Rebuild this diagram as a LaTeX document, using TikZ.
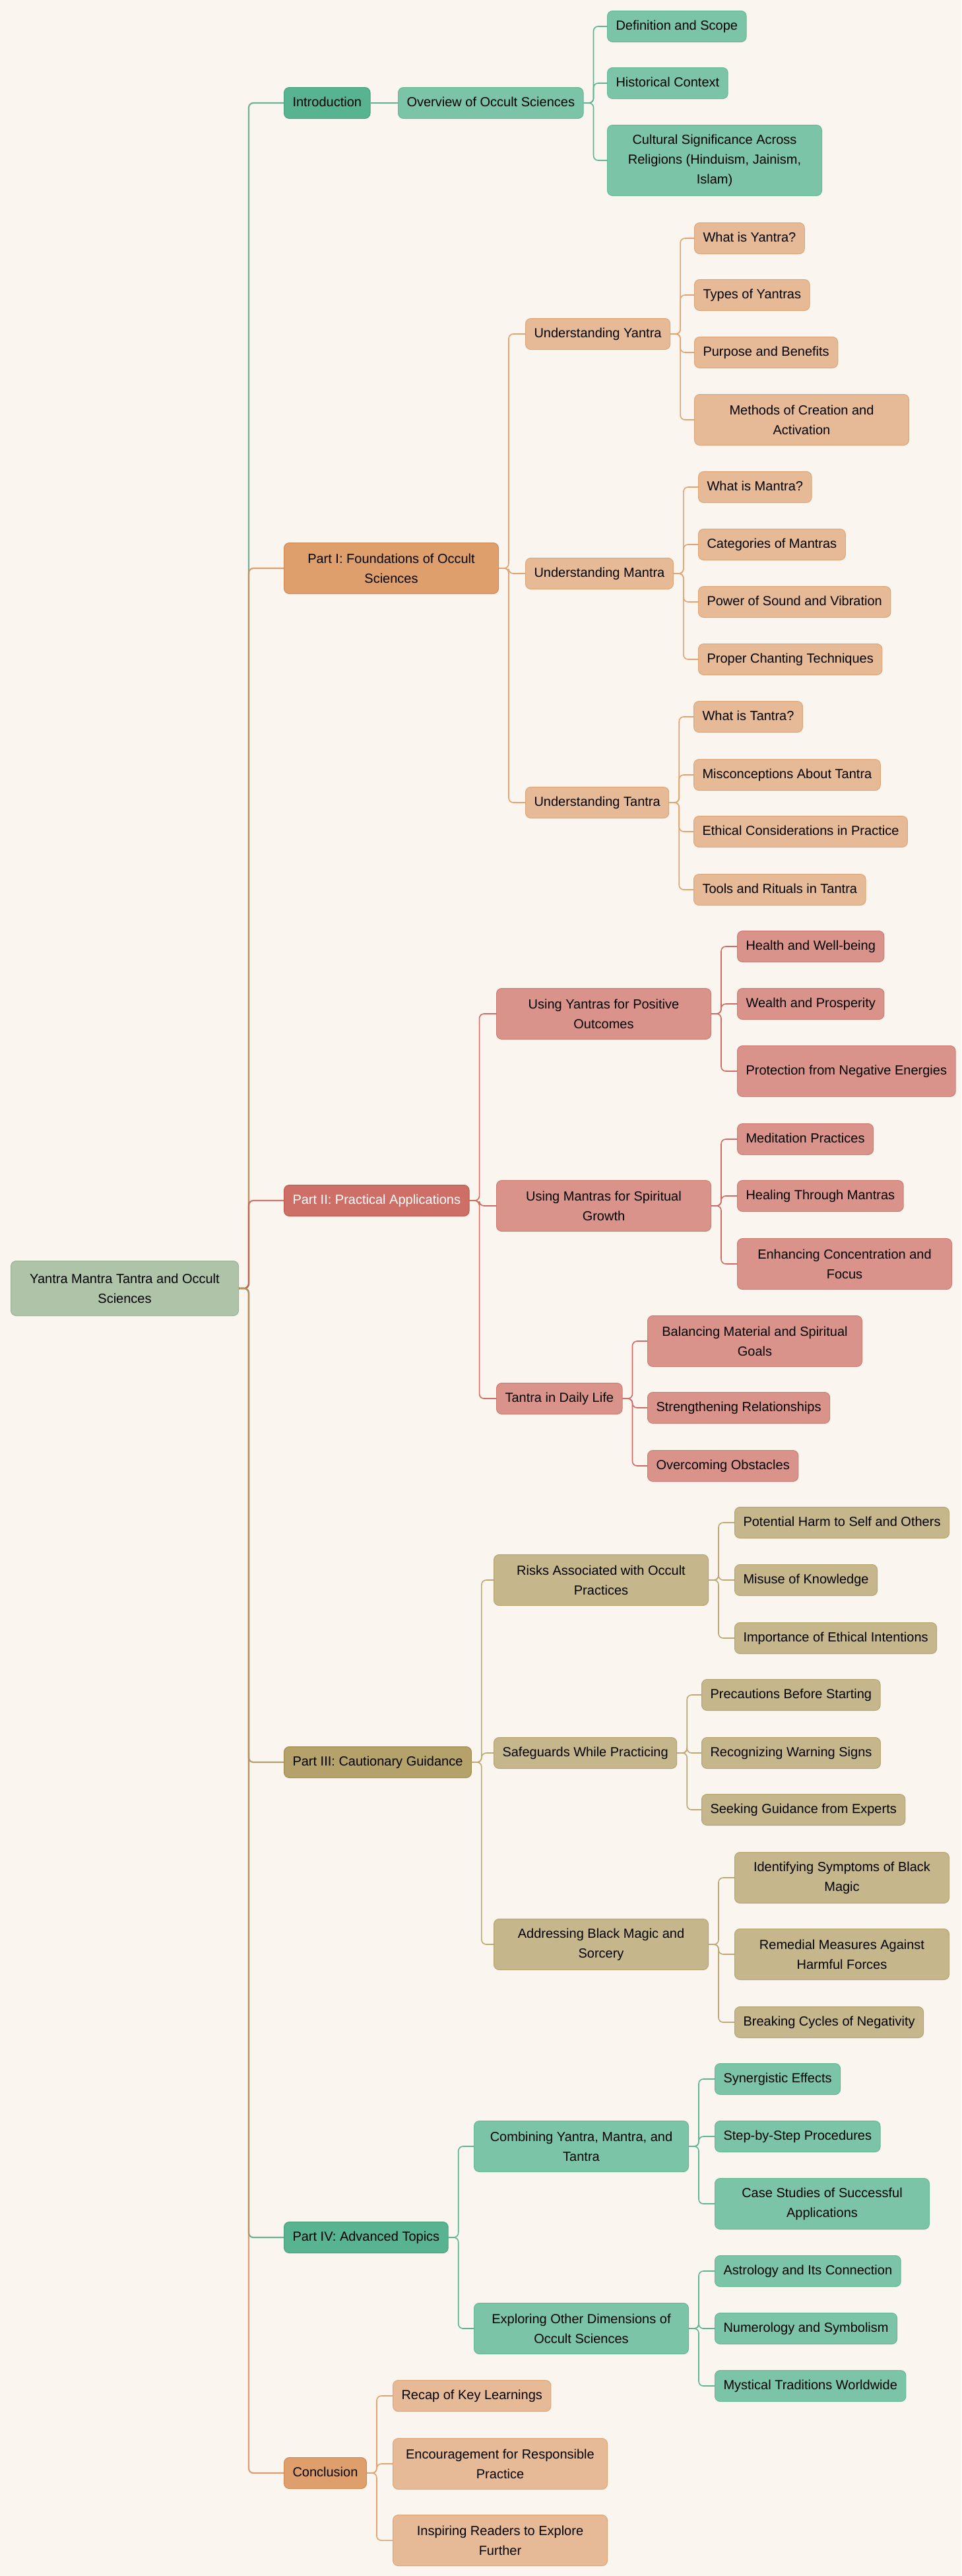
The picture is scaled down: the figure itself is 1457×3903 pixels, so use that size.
\documentclass[tikz,border=0pt]{standalone}
\usepackage{fontspec}
\setmainfont{Liberation Sans}

\definecolor{bgc}{HTML}{FAF6EF}
\definecolor{sageF}{HTML}{AEC3A8}
\definecolor{sageD}{HTML}{9AB394}
\definecolor{grA}{HTML}{58B391}
\definecolor{grAd}{HTML}{4A9F7F}
\definecolor{grB}{HTML}{7BC4A8}
\definecolor{grBd}{HTML}{66B796}
\definecolor{grL}{HTML}{5DB594}
\definecolor{orA}{HTML}{DF9F6D}
\definecolor{orAd}{HTML}{D2894F}
\definecolor{orB}{HTML}{E6BA96}
\definecolor{orBd}{HTML}{DFA576}
\definecolor{orL}{HTML}{E3A26F}
\definecolor{rdA}{HTML}{CD6F67}
\definecolor{rdAd}{HTML}{C0584F}
\definecolor{rdB}{HTML}{DA938A}
\definecolor{rdBd}{HTML}{CF7A71}
\definecolor{rdL}{HTML}{CF6B63}
\definecolor{olA}{HTML}{B4A26A}
\definecolor{olAd}{HTML}{9E8A4F}
\definecolor{olB}{HTML}{C5B78B}
\definecolor{olBd}{HTML}{B5A470}
\definecolor{olL}{HTML}{BCA871}

\begin{document}
\begin{tikzpicture}[
x = 1pt, y = -1pt,
    mm/.style = {rectangle, rounded corners=8pt, draw, line width=1pt,
                 anchor=north west, inner xsep=13pt, inner ysep=0pt,
                 align=center, font=\fontsize{20}{30}\selectfont},
   box/.style = {mm, minimum height=47pt, text height=15pt, text depth=4.5pt},
 boxii/.style = {mm, minimum width=325pt, minimum height=77pt},
boxiii/.style = {mm, minimum width=325pt, minimum height=107pt},
  sage/.style = {fill=sageF, draw=sageD},
green1/.style = {fill=grA, draw=grAd},
green2/.style = {fill=grB, draw=grBd},
orange1/.style = {fill=orA, draw=orAd},
orange2/.style = {fill=orB, draw=orBd},
  red1/.style = {fill=rdA, draw=rdAd, text=white},
  red2/.style = {fill=rdB, draw=rdBd},
olive1/.style = {fill=olA, draw=olAd},
olive2/.style = {fill=olB, draw=olBd},
 trunk/.style = {line width=2.2pt, rounded corners=7pt, draw opacity=.8},
  link/.style = {line width=1.6pt, rounded corners=7pt},
                        ]
\fill[bgc] (0,0) rectangle (1457,3903);

% root and parts
\node[boxii, sage, minimum width=345pt, minimum height=83pt] (root) at (16,1910)
     {Yantra Mantra Tantra and Occult\\Sciences};
\node[box, green1]   (intro) at (430,132)  {Introduction};
\node[boxii, orange1] (found) at (430,822) {Part I: Foundations of Occult\\Sciences};
\node[box, red1]     (pract) at (430,1795) {Part II: Practical Applications};
\node[box, olive1]   (caut)  at (430,2646) {Part III: Cautionary Guidance};
\node[box, green1]   (adv)   at (430,3366) {Part IV: Advanced Topics};
\node[box, orange1]  (concl) at (430,3723) {Conclusion};

% Introduction
\node[box, green2]    (ovw)   at (603,132) {Overview of Occult Sciences};
\node[box, green2]    (defin) at (920,16)  {Definition and Scope};
\node[box, green2]    (hist)  at (920,102) {Historical Context};
\node[boxiii, green2] (cult)  at (920,189)
     {Cultural Significance Across\\Religions (Hinduism, Jainism,\\Islam)};

% Part I
\node[box, orange2]   (uyan)   at (796,482)  {Understanding Yantra};
\node[box, orange2]   (ywhat)  at (1052,337) {What is Yantra?};
\node[box, orange2]   (ytypes) at (1052,423) {Types of Yantras};
\node[box, orange2]   (ypurp)  at (1052,510) {Purpose and Benefits};
\node[boxii, orange2] (ymeth)  at (1052,597) {Methods of Creation and\\Activation};
\node[box, orange2]   (uman)   at (796,845)  {Understanding Mantra};
\node[box, orange2]   (mwhat)  at (1058,714) {What is Mantra?};
\node[box, orange2]   (mcat)   at (1058,801) {Categories of Mantras};
\node[box, orange2]   (mpow)   at (1058,888) {Power of Sound and Vibration};
\node[box, orange2]   (mchant) at (1058,975) {Proper Chanting Techniques};
\node[box, orange2]   (utan)   at (796,1192)  {Understanding Tantra};
\node[box, orange2]   (twhat)  at (1051,1062) {What is Tantra?};
\node[box, orange2]   (tmisc)  at (1051,1150) {Misconceptions About Tantra};
\node[box, orange2]   (teth)   at (1051,1236) {Ethical Considerations in Practice};
\node[box, orange2]   (ttools) at (1051,1324) {Tools and Rituals in Tantra};

% Part II
\node[boxii, red2] (puy)      at (752,1497)  {Using Yantras for Positive\\Outcomes};
\node[box, red2]   (health)   at (1117,1410) {Health and Well-being};
\node[box, red2]   (wealth)   at (1117,1497) {Wealth and Prosperity};
\node[boxii, red2] (protect)  at (1117,1584) {Protection from Negative Energies};
\node[boxii, red2] (pum)      at (752,1788)  {Using Mantras for Spiritual\\Growth};
\node[box, red2]   (medit)    at (1117,1702) {Meditation Practices};
\node[box, red2]   (heal)     at (1117,1788) {Healing Through Mantras};
\node[boxii, red2] (enhance)  at (1117,1876) {Enhancing Concentration and\\Focus};
\node[box, red2]   (ptd)      at (752,2095)  {Tantra in Daily Life};
\node[boxii, red2] (balance)  at (981,1993)  {Balancing Material and Spiritual\\Goals};
\node[box, red2]   (strength) at (981,2109)  {Strengthening Relationships};
\node[box, red2]   (overcome) at (981,2197)  {Overcoming Obstacles};

% Part III
\node[boxii, olive2] (risk)   at (748,2355)  {Risks Associated with Occult\\Practices};
\node[box, olive2]   (harm)   at (1113,2283) {Potential Harm to Self and Others};
\node[box, olive2]   (misuse) at (1113,2370) {Misuse of Knowledge};
\node[box, olive2]   (ethic)  at (1113,2458) {Importance of Ethical Intentions};
\node[box, olive2]   (safe)   at (748,2632)  {Safeguards While Practicing};
\node[box, olive2]   (precau) at (1063,2544) {Precautions Before Starting};
\node[box, olive2]   (warn)   at (1063,2632) {Recognizing Warning Signs};
\node[box, olive2]   (seek)   at (1063,2718) {Seeking Guidance from Experts};
\node[boxii, olive2] (black)  at (748,2907)  {Addressing Black Magic and\\Sorcery};
\node[boxii, olive2] (symp)   at (1113,2806) {Identifying Symptoms of Black\\Magic};
\node[boxii, olive2] (remed)  at (1113,2922) {Remedial Measures Against\\Harmful Forces};
\node[box, olive2]   (cycles) at (1113,3040) {Breaking Cycles of Negativity};

% Part IV
\node[boxii, green2] (comb)   at (718,3213)  {Combining Yantra, Mantra, and\\Tantra};
\node[box, green2]   (syn)    at (1083,3126) {Synergistic Effects};
\node[box, green2]   (steps)  at (1083,3213) {Step-by-Step Procedures};
\node[boxii, green2] (cases)  at (1083,3300) {Case Studies of Successful\\Applications};
\node[boxii, green2] (expl)   at (718,3489)  {Exploring Other Dimensions of\\Occult Sciences};
\node[box, green2]   (astro)  at (1083,3417) {Astrology and Its Connection};
\node[box, green2]   (numer)  at (1083,3504) {Numerology and Symbolism};
\node[box, green2]   (mystic) at (1083,3591) {Mystical Traditions Worldwide};

% Conclusion
\node[box, orange2]   (recap)   at (595,3606) {Recap of Key Learnings};
\node[boxii, orange2] (encour)  at (595,3694) {Encouragement for Responsible\\Practice};
\node[boxii, orange2] (inspire) at (595,3810) {Inspiring Readers to Explore\\Further};

% connectors
\foreach \n/\c in {intro/grAd, found/orAd, pract/rdAd, caut/olAd, adv/grAd, concl/orAd}
    \draw[trunk, draw=\c] (root.east) -- ++(15,0) |- (\n.west);

\draw[link, grL] (intro.east) -- (ovw.west);
\foreach \c in {defin, hist, cult}
    \draw[link, grL] (ovw.east) -- ++(15,0) |- (\c.west);

\foreach \p/\c in {found/uyan, found/uman, found/utan,
                   uyan/ywhat, uyan/ytypes, uyan/ypurp, uyan/ymeth,
                   uman/mwhat, uman/mcat, uman/mpow, uman/mchant,
                   utan/twhat, utan/tmisc, utan/teth, utan/ttools,
                   concl/recap, concl/encour, concl/inspire}
    \draw[link, orL] (\p.east) -- ++(15,0) |- (\c.west);

\foreach \p/\c in {pract/puy, pract/pum, pract/ptd,
                   puy/health, puy/wealth, puy/protect,
                   pum/medit, pum/heal, pum/enhance,
                   ptd/balance, ptd/strength, ptd/overcome}
    \draw[link, rdL] (\p.east) -- ++(15,0) |- (\c.west);

\foreach \p/\c in {caut/risk, caut/safe, caut/black,
                   risk/harm, risk/misuse, risk/ethic,
                   safe/precau, safe/warn, safe/seek,
                   black/symp, black/remed, black/cycles}
    \draw[link, olL] (\p.east) -- ++(15,0) |- (\c.west);

\foreach \p/\c in {adv/comb, adv/expl,
                   comb/syn, comb/steps, comb/cases,
                   expl/astro, expl/numer, expl/mystic}
    \draw[link, grL] (\p.east) -- ++(15,0) |- (\c.west);
\end{tikzpicture}
\end{document}
